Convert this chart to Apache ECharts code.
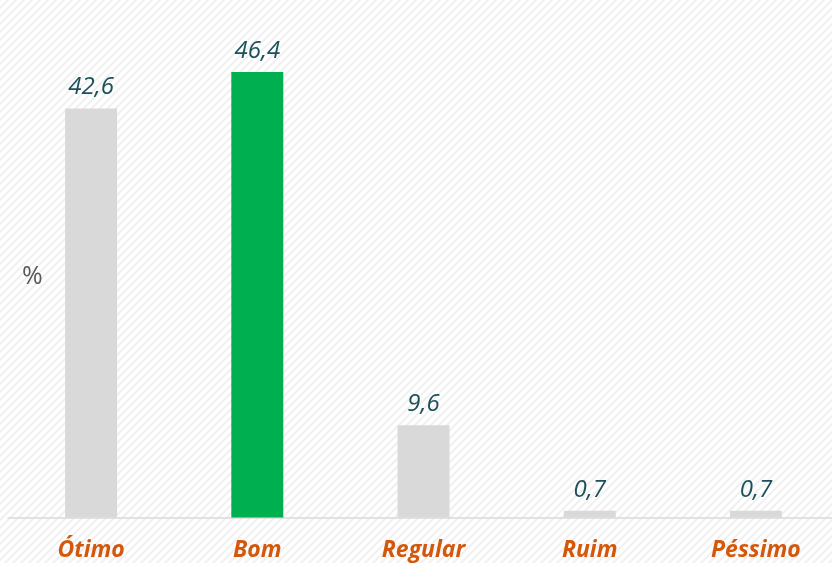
<!DOCTYPE html>
<html>
<head>
<meta charset="utf-8">
<script src="https://cdn.jsdelivr.net/npm/echarts@6/dist/echarts.min.js"></script>
<style>
  html, body { margin: 0; padding: 0; background: #fff; }
  #chart { width: 832px; height: 563px; }
</style>
</head>
<body>
<div id="chart"></div>
<script>
// Avaliação (%)
const categories = ['Ótimo', 'Bom', 'Regular', 'Ruim', 'Péssimo'];
const values = [42.6, 46.4, 9.6, 0.7, 0.7];
const barColors = ['#d9d9d9', '#00b050', '#d9d9d9', '#d9d9d9', '#d9d9d9'];

// faint diagonal hatching for the background
function hatchPattern() {
  const c = document.createElement('canvas');
  c.width = 8; c.height = 8;
  const ctx = c.getContext('2d');
  ctx.fillStyle = '#ffffff';
  ctx.fillRect(0, 0, 8, 8);
  ctx.strokeStyle = '#f0f0f0';
  ctx.lineWidth = 2;
  ctx.beginPath();
  ctx.moveTo(-2, 10); ctx.lineTo(10, -2);
  ctx.moveTo(-2, 2); ctx.lineTo(2, -2);
  ctx.moveTo(6, 10); ctx.lineTo(10, 6);
  ctx.stroke();
  return c;
}

const chart = echarts.init(document.getElementById('chart'));
chart.setOption({
  backgroundColor: { image: hatchPattern(), repeat: 'repeat' },
  animation: false,
  grid: {
    left: 8, width: 831, top: 37.5, bottom: 45.5,
    containLabel: false,
    outerBoundsMode: 'none'
  },
  xAxis: {
    type: 'category',
    data: categories,
    axisLine: { lineStyle: { color: '#d9d9d9', width: 1.5 } },
    axisTick: { show: false },
    axisLabel: {
      color: '#d3580b',
      fontFamily: 'Open Sans',
      fontStyle: 'italic',
      fontWeight: 'bold',
      fontSize: 23,
      margin: 21
    }
  },
  yAxis: {
    type: 'value',
    min: 0,
    max: 50,
    show: false,
    splitLine: { show: false }
  },
  graphic: [{
    type: 'text',
    left: 22,
    top: 264,
    style: { text: '%', fill: '#595959', fontFamily: 'Open Sans', fontSize: 25 }
  }],
  series: [{
    type: 'bar',
    data: values.map((v, i) => ({ value: v, itemStyle: { color: barColors[i] } })),
    barWidth: 52,
    label: {
      show: true,
      position: 'top',
      distance: 9,
      formatter: p => String(p.value).replace('.', ','),
      color: '#1c515c',
      fontFamily: 'Open Sans',
      fontStyle: 'italic',
      fontSize: 24
    }
  }]
});
</script>
</body>
</html>
